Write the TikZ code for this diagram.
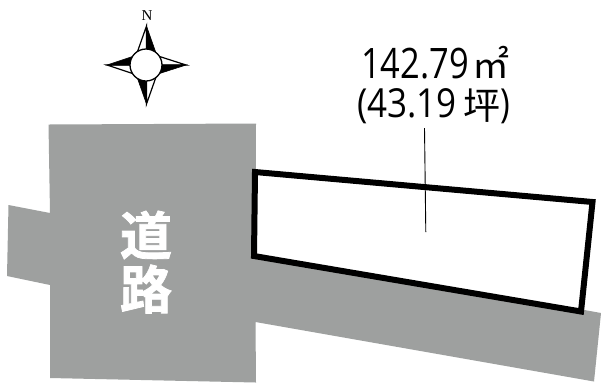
\documentclass[tikz,border=0pt]{standalone}
\usepackage{fontspec}
\setmainfont{Open Sans}
\newfontfamily\cjkr{Noto Sans CJK JP}
\newfontfamily\cjkb{Noto Sans CJK JP Bold}[FakeBold=1.5]
\newfontfamily\compassfont{Liberation Serif}
\definecolor{roadgray}{RGB}{158,160,159}
\tikzset{
  road/.style={fill=roadgray,draw=none},
  lot/.style={draw=black,line width=6pt,miter limit=10,line join=miter},
  armline/.style={draw=black,line width=1.2pt,fill=white,line join=miter},
  armfill/.style={fill=black,draw=black,line width=.6pt},
  area/.style={inner sep=0pt,anchor=base west,text=black},
  roadname/.style={inner sep=0pt,anchor=center,text=white}
}
\begin{document}
\begin{tikzpicture}[x=1pt,y=-1pt]
\useasboundingbox (0,0) rectangle (601,384);
\fill[white] (0,0) rectangle (601,384);
% road
\path[road] (48.5,124.5) -- (256,123.5) -- (255.5,250) -- (601,313) -- (594,381.5) -- (255.5,322) -- (256,382.5) -- (50,378) -- (50,285) -- (7,276) -- (8.5,205) -- (50,213) -- cycle;
% lot
\draw[lot,fill=white] (255,172) -- (592.5,202) -- (581,311.5) -- (254,256) -- cycle;
% leader
\coordinate (ltop) at (424.5,128);
\coordinate (lbot) at (425.8,232);
\draw[line width=.9pt] (ltop) -- (lbot);
% compass
\coordinate (c) at (146,65);
\draw[armline] (146.5,26) -- (137,53) -- (146.5,53) -- cycle;
\fill[armfill] (146.5,26) -- (156,53) -- (146.5,53) -- cycle;
\draw[armline] (186,65) -- (158,56) -- (158,65) -- cycle;
\fill[armfill] (186,65) -- (158,74) -- (158,65) -- cycle;
\draw[armline] (146.5,104) -- (156,77) -- (146.5,77) -- cycle;
\fill[armfill] (146.5,104) -- (137,77) -- (146.5,77) -- cycle;
\draw[armline] (107,65) -- (134,74) -- (134,65) -- cycle;
\fill[armfill] (107,65) -- (134,56) -- (134,65) -- cycle;
\draw[draw=black,line width=1.3pt,fill=white] (c) circle (16);
\node[inner sep=0pt] (north) at (147,16) {\compassfont\fontsize{15pt}{15pt}\selectfont N};
% area labels
\node[area] (a1) at (361,78) {\fontsize{42pt}{42pt}\selectfont\scalebox{.82}[1]{142.79}\hspace{4pt}{\cjkr\fontsize{37pt}{37pt}\selectfont ㎡}};
\node[area] (b1) at (357,117) {\fontsize{40pt}{40pt}\selectfont\scalebox{.875}[1]{(43.19}\hspace{7pt}\raisebox{-2.5pt}{\cjkr\fontsize{37pt}{37pt}\selectfont 坪}\hspace{0pt}\scalebox{.82}[1]{)}};
% road name
\node[roadname] (d1) at (146,235) {\cjkb\fontsize{52pt}{52pt}\selectfont 道};
\node[roadname] (d2) at (146,289) {\cjkb\fontsize{52pt}{52pt}\selectfont 路};
\end{tikzpicture}
\end{document}
